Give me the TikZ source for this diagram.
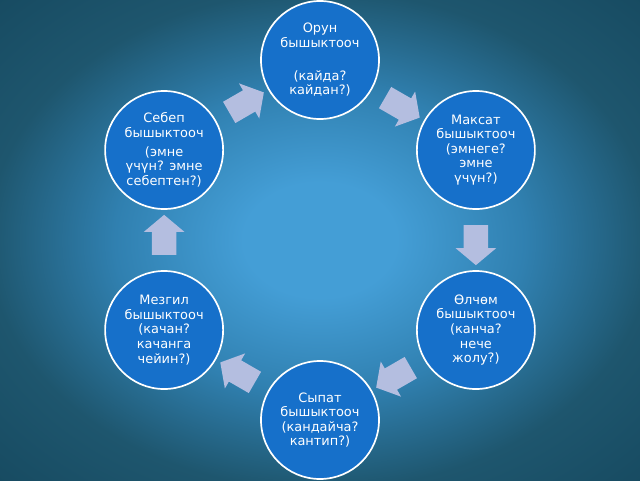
\documentclass[tikz,border=0pt]{standalone}
\usepackage{fontspec}
\setmainfont{DejaVu Sans}
\usepackage{xcolor}
\usetikzlibrary{shapes.arrows, calc}

\definecolor{circblue}{RGB}{22,112,202}
\definecolor{arrowgray}{RGB}{180,190,224}
\definecolor{glowA}{RGB}{68,158,214}
\definecolor{glowB}{RGB}{48,128,176}
\definecolor{glowC}{RGB}{30,86,110}
\definecolor{glowD}{RGB}{20,70,92}

\pgfdeclareradialshading{bgglow}{\pgfpoint{0bp}{0bp}}{%
  color(0bp)=(glowA); color(6bp)=(glowA); color(16bp)=(glowB);
  color(26bp)=(glowC); color(40bp)=(glowD); color(50bp)=(glowD)}

\begin{document}
\begin{tikzpicture}[
    font=\fontsize{9.2}{10.4}\selectfont,
    bubble/.style={circle, draw=white, line width=1.2pt, fill=circblue, text=white, minimum size=2.95cm, inner sep=0pt, align=center},
    flow/.style={single arrow, fill=arrowgray, draw=none, minimum height=1cm, inner xsep=0pt, inner ysep=0.3cm, single arrow head extend=0.2cm, single arrow tip angle=100},
]

% Background
\shade[shading=bgglow] (-8,-6) rectangle (8,6);

% Circles
\node[bubble] (orun)   at (90:4.5)  {Орун\\бышыктооч\\[13pt](кайда?\\кайдан?)};
\node[bubble] (maksat) at (30:4.5)  {Максат\\бышыктооч\\(эмнеге?\\эмне\\үчүн?)};
\node[bubble] (olchom) at (-30:4.5) {Өлчөм\\бышыктооч\\(канча?\\нече\\жолу?)};
\node[bubble] (sypat)  at (-90:4.5) {Сыпат\\бышыктооч\\(кандайча?\\кантип?)};
\node[bubble] (mezgil) at (210:4.5) {Мезгил\\бышыктооч\\(качан?\\качанга\\чейин?)};
\node[bubble] (sebep)  at (150:4.5) {Себеп\\бышыктооч\\[3pt](эмне\\үчүн? эмне\\себептен?)};

% Arrows between circles
\node[flow, rotate=30]   (sebep-orun)   at ($(sebep)!0.5!(orun)$)    {};
\node[flow, rotate=-30]  (orun-maksat)  at ($(orun)!0.5!(maksat)$)   {};
\node[flow, rotate=-90]  (maksat-olchom) at ($(maksat)!0.5!(olchom)$) {};
\node[flow, rotate=-150] (olchom-sypat) at ($(olchom)!0.5!(sypat)$)  {};
\node[flow, rotate=150]  (sypat-mezgil) at ($(sypat)!0.5!(mezgil)$)  {};
\node[flow, rotate=90]   (mezgil-sebep) at ($(mezgil)!0.5!(sebep)$)  {};

\end{tikzpicture}
\end{document}
